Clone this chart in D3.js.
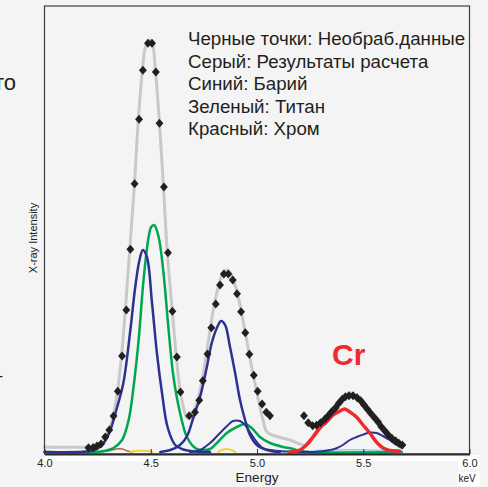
<!DOCTYPE html>
<html>
<head>
<meta charset="utf-8">
<script src="https://cdn.jsdelivr.net/npm/d3@7"></script>
<style>
  html, body { margin: 0; padding: 0; background: #f4f4f4; }
  svg { display: block; font-family: "Liberation Sans", Arial, Helvetica, sans-serif; }
</style>
</head>
<body>
<div id="chart"></div>
<script>
// raw data points (black diamonds), keV / counts
const rawEnergy = [4.207,4.229,4.247,4.266,4.286,4.305,4.325,4.345,4.365,4.385,4.404,4.424,4.445,4.463,4.487,4.506,4.524,4.541,4.562,4.581,4.602,4.623,4.640,4.681,4.708,4.728,4.745,4.767,4.785,4.806,4.826,4.844,4.865,4.886,4.906,4.925,4.945,4.964,4.985,5.003,5.024,5.044,5.061,
  5.221,5.241,5.262,5.280,5.299,5.319,5.335,5.351,5.370,5.385,5.401,5.416,5.433,5.452,5.471,5.488,5.504,5.520,5.535,5.553,5.570,5.585,5.602,5.618,5.635,5.653,5.668,5.684];
const rawCounts = [43,45,60,80,150,220,360,607,960,1420,2027,2683,3327,3817,4087,4087,3800,3287,2650,1993,1407,950,600,363,397,517,713,980,1243,1480,1670,1780,1780,1720,1583,1403,1193,977,767,607,480,397,363,
  363,293,263,267,293,327,363,403,443,487,527,553,563,563,543,513,470,427,387,343,300,253,210,170,137,110,87,70];

// fit result (gray)
const fitEnergy = [4.000,4.207,4.239,4.263,4.286,4.305,4.324,4.343,4.362,4.380,4.401,4.423,4.441,4.460,4.474,4.493,4.507,4.521,4.540,4.559,4.577,4.601,4.620,4.638,4.657,4.671,4.690,4.709,4.728,4.746,4.765,4.784,4.803,4.822,4.840,4.859,4.878,4.897,4.915,4.934,4.953,4.972,4.991,5.009,5.028,5.047,5.085,5.155,5.225,5.249,5.277,5.305,5.333,5.362,5.390,5.418,5.437,5.455,5.474,5.493,5.516,5.540,5.568,5.596,5.624,5.653,5.685];
const fitCounts = [50,50,60,90,150,230,370,600,950,1410,2020,2670,3310,3800,4040,4120,4090,3840,3320,2680,2020,1420,960,620,420,340,360,440,580,770,1020,1290,1520,1680,1790,1820,1780,1670,1520,1320,1100,880,680,500,320,200,160,120,70,120,200,280,370,450,520,570,590,580,560,520,450,380,300,220,150,110,70];

// barium (blue) – three lines
const baLaEnergy = [4.000,4.216,4.254,4.282,4.310,4.338,4.371,4.404,4.427,4.447,4.463,4.482,4.506,4.529,4.553,4.579,4.615,4.653,4.709,4.779];
const baLaCounts = [0,10,40,100,220,420,690,1220,1650,1920,2020,1950,1490,990,590,250,70,25,5,0];
const baLb1Energy = [4.545,4.592,4.638,4.671,4.700,4.732,4.764,4.787,4.811,4.831,4.850,4.873,4.897,4.920,4.944,4.967,4.999,5.046,5.108];
const baLb1Counts = [0,20,70,160,340,550,850,1090,1240,1310,1270,1050,790,520,320,170,70,20,0];
const baLb2Energy = [4.685,4.732,4.779,4.826,4.859,4.887,4.920,4.944,4.967,4.999,5.028,5.061,5.139,5.202,5.296,5.343,5.371,5.404,5.437,5.469,5.507,5.531,5.563,5.592,5.624,5.657,5.681];
const baLb2Counts = [0,20,90,190,260,310,310,270,200,100,40,20,5,0,5,20,35,70,120,150,180,195,190,160,120,70,40];

// titanium (green)
const tiEnergy = [4.000,4.263,4.300,4.325,4.365,4.396,4.419,4.443,4.466,4.490,4.502,4.516,4.537,4.560,4.584,4.607,4.638,4.670,4.709,4.740,4.779,4.811,4.858,4.905,4.944,4.975,5.014,5.061,5.124,5.171,5.202,5.249,5.681];
const tiCounts = [0,5,20,40,120,320,650,1120,1720,2150,2250,2270,2150,1790,1220,750,390,150,40,20,30,90,190,250,280,240,150,90,50,30,10,0,0];

// chromium (red)
const crEnergy = [5.155,5.202,5.233,5.264,5.296,5.327,5.358,5.390,5.413,5.437,5.468,5.499,5.531,5.562,5.593,5.624,5.671];
const crCounts = [0,20,70,150,240,300,370,410,430,400,350,270,190,100,40,15,10];

// small traces near the baseline
const brownEnergy = [4.263,4.310,4.338,4.366,4.390,4.413];
const brownCounts = [0,15,30,30,10,0];
const yellowAEnergy = [4.404,4.427,4.488,4.507];
const yellowACounts = [0,10,10,0];
const yellowBEnergy = [4.817,4.840,4.873,4.897];
const yellowBCounts = [0,25,25,0];
const cyanEnergy = [5.258,5.286,5.671];
const cyanCounts = [0,15,15];

const xTicks = [4.0, 4.5, 5.0, 5.5, 6.0];
const legendLines = [
  "Черные точки: Необраб.данные",
  "Серый: Результаты расчета",
  "Синий: Барий",
  "Зеленый: Титан",
  "Красный: Хром"
];

const width = 488, height = 487;
const plotLeft = 44.5, plotRight = 469.5, plotTop = 6, axisY = 454;

const svg = d3.select("#chart").append("svg")
  .attr("width", width).attr("height", height);

svg.append("rect").attr("width", width).attr("height", height).attr("fill", "#f4f4f4");
// white band under the plot
svg.append("rect").attr("x", plotLeft).attr("y", axisY).attr("width", plotRight - plotLeft + 1).attr("height", 7).attr("fill", "#ffffff");
svg.append("rect").attr("x", 458).attr("y", 455).attr("width", 22).attr("height", 14).attr("fill", "#ffffff");
svg.append("rect").attr("x", 457).attr("y", 472).attr("width", 23).attr("height", 14).attr("fill", "#ffffff");

const x = d3.scaleLinear().domain([4.0, 6.0]).range([plotLeft, plotRight]);
const y = d3.scaleLinear().domain([0, 4460]).range([452, plotTop]);

const line = d3.line()
  .x(d => x(d[0]))
  .y(d => y(d[1]))
  .curve(d3.curveCatmullRom.alpha(0.5));

function drawLine(es, cs, color, w) {
  svg.append("path")
    .datum(d3.zip(es, cs))
    .attr("fill", "none")
    .attr("stroke", color)
    .attr("stroke-width", w)
    .attr("stroke-linejoin", "round")
    .attr("stroke-linecap", "round")
    .attr("d", line);
}

// gray fit first
drawLine(fitEnergy, fitCounts, "#c9c9c9", 3);
// minor traces
drawLine(brownEnergy, brownCounts, "#b0634a", 1.5);
drawLine(yellowAEnergy, yellowACounts, "#f2d233", 2);
drawLine(yellowBEnergy, yellowBCounts, "#f2d233", 2);
drawLine(cyanEnergy, cyanCounts, "#8fd0ec", 1.5);
// elements
drawLine(tiEnergy, tiCounts, "#00a651", 2.5);
drawLine(baLaEnergy, baLaCounts, "#2e3192", 2.5);
drawLine(baLb1Energy, baLb1Counts, "#2e3192", 2.5);
drawLine(baLb2Energy, baLb2Counts, "#2e3192", 2);
drawLine(crEnergy, crCounts, "#ee2a2f", 3.5);

// diamonds
const rhombus = {
  draw(ctx, size) {
    const h = Math.sqrt(size) * 0.6, w = h * 0.88;
    ctx.moveTo(0, -h); ctx.lineTo(w, 0); ctx.lineTo(0, h); ctx.lineTo(-w, 0); ctx.closePath();
  }
};
svg.append("g")
  .selectAll("path")
  .data(d3.zip(rawEnergy, rawCounts))
  .join("path")
  .attr("transform", d => `translate(${x(d[0])},${y(d[1])})`)
  .attr("d", d3.symbol().type(rhombus).size(56))
  .attr("fill", "#231f20");

// frame
svg.append("rect")
  .attr("x", plotLeft).attr("y", plotTop)
  .attr("width", plotRight - plotLeft).attr("height", axisY - plotTop)
  .attr("fill", "none").attr("stroke", "#3c3c3c").attr("stroke-width", 1.2);

// x axis
const xAxis = svg.append("g")
  .attr("transform", `translate(0,${axisY})`)
  .call(d3.axisBottom(x).tickValues(xTicks).tickFormat(d3.format(".1f")).tickSizeInner(-5).tickSizeOuter(0));
xAxis.select(".domain").attr("stroke", "#2a2a2a").attr("stroke-width", 1.8);
xAxis.selectAll(".tick line").attr("stroke", "#333");
xAxis.selectAll(".tick text").attr("y", 5.2).attr("font-size", 11).attr("fill", "#222")
  .attr("font-family", "'Liberation Sans', Arial, sans-serif");

svg.append("text").attr("x", 257).attr("y", 482).attr("text-anchor", "middle")
  .attr("font-size", 13.5).attr("fill", "#222").text("Energy");
svg.append("text").attr("x", 467).attr("y", 482).attr("text-anchor", "middle")
  .attr("font-size", 10).attr("fill", "#222").text("keV");

svg.append("text")
  .attr("transform", "translate(37,238) rotate(-90)")
  .attr("text-anchor", "middle").attr("font-size", 11).attr("fill", "#222")
  .text("X-ray Intensity");

// legend
svg.append("g").selectAll("text")
  .data(legendLines)
  .join("text")
  .attr("x", 188)
  .attr("y", (d, i) => 45 + i * 22.5)
  .attr("font-size", 18.7)
  .attr("fill", "#231f20")
  .text(d => d);

// Cr label
svg.append("text").attr("x", 332).attr("y", 365)
  .attr("font-size", 30).attr("font-weight", "bold").attr("fill", "#ee2a2f").text("Cr");

// cut-off text at the left edge (cropped in the source too)
svg.append("text").attr("x", 16).attr("y", 90).attr("text-anchor", "end")
  .attr("font-size", 22).attr("fill", "#231f20").text("то");
svg.append("text").attr("x", 3).attr("y", 381).attr("text-anchor", "end")
  .attr("font-size", 16).attr("fill", "#231f20").text("-");
</script>
</body>
</html>
